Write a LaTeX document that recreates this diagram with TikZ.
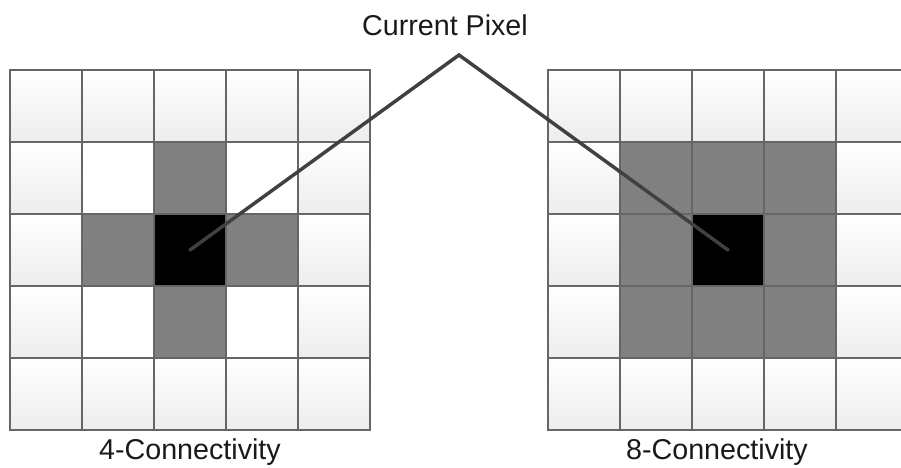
\documentclass[tikz,border=0pt]{standalone}
\usepackage{fontspec}
\setmainfont{Liberation Sans}
\usepackage{xcolor}
\definecolor{pxLine}{HTML}{666666}
\definecolor{pxShade}{HTML}{EDEDED}
\definecolor{pxGray}{HTML}{808080}
\definecolor{pxPointer}{HTML}{404040}
\usetikzlibrary{positioning}
\tikzset{
    % cell styles
    px/.style={rectangle,draw=pxLine,line width=0.8pt,minimum size=54pt,inner sep=0pt,outer sep=0pt},
    kind/.code={\ifcase#1\relax
        \tikzset{top color=white,bottom color=pxShade}\or
        \tikzset{fill=white}\or
        \tikzset{fill=pxGray}\or
        \tikzset{fill=black}\fi},
    % text and pointer styles
    caption/.style={font=\fontsize{21.5}{25}\selectfont,text=black!90,inner sep=0pt},
    pointer/.style={draw=pxPointer,line width=2.6pt,line cap=round,line join=miter}
}

\begin{document}
\begin{tikzpicture}[x=0.75pt,y=-0.75pt]
    \useasboundingbox (0,0) rectangle (901,468);
    \clip (0,0) rectangle (901,468);

    % Left grid: 4-connectivity
    \foreach \i in {0,...,4} {
        \foreach \j in {0,...,4} {
            \pgfmathtruncatemacro\dx{abs(\i-2)}
            \pgfmathtruncatemacro\dy{abs(\j-2)}
            \pgfmathtruncatemacro\k{(\dx+\dy==0)*3+(\dx+\dy==1)*2+(\dx==1)*(\dy==1)}
            \node[px,kind=\k] (L-\i-\j) at (46+72*\i,106+72*\j) {};
        }
    }

    % Right grid: 8-connectivity
    \foreach \i in {0,...,4} {
        \foreach \j in {0,...,4} {
            \pgfmathtruncatemacro\m{max(abs(\i-2),abs(\j-2))}
            \pgfmathtruncatemacro\k{(\m==0)*3+(\m==1)*2}
            \node[px,kind=\k] (R-\i-\j) at (584+72*\i,106+72*\j) {};
        }
    }

    % Labels
    \node[caption] (cur-label) at (445,25) {Current Pixel};
    \node[caption] (four-label) at (190,452) {4-Connectivity};
    \node[caption] (eight-label) at (717,452) {8-Connectivity};

    % Pointer to both centre pixels
    \coordinate (apex) at (459,55);
    \draw[pointer] (L-2-2.center) -- (apex) -- (R-2-2.center);
\end{tikzpicture}
\end{document}
